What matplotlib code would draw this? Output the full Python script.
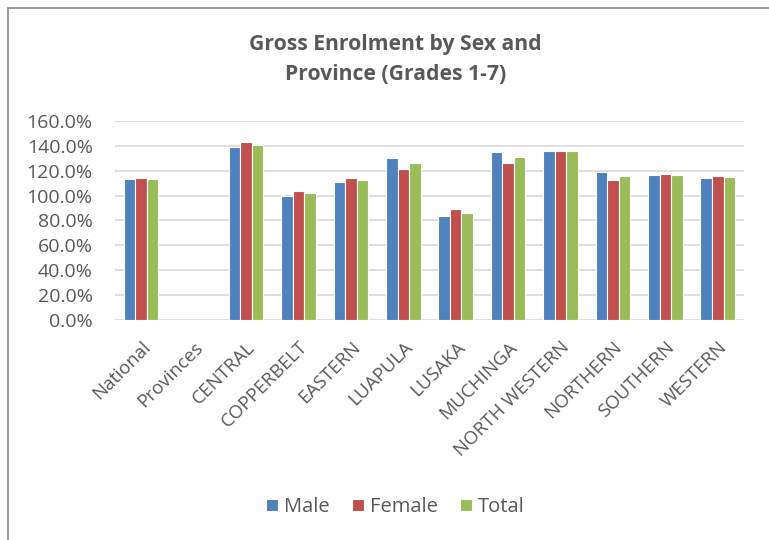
import matplotlib.pyplot as plt
import numpy as np
from matplotlib.patches import Rectangle

blue = '#4F81BD'
red = '#C0504D'
green = '#9BBB59'
grey_text = '#595959'
grid_grey = '#D9D9D9'

categories = ['National', 'Provinces', 'CENTRAL', 'COPPERBELT', 'EASTERN',
              'LUAPULA', 'LUSAKA', 'MUCHINGA', 'NORTH WESTERN', 'NORTHERN',
              'SOUTHERN', 'WESTERN']
# Provinces is an empty header row in the source table
male = [113.3, np.nan, 138.8, 99.9, 110.6, 130.5, 83.5, 135.0, 135.6, 119.2, 116.8, 114.4]
female = [113.8, np.nan, 142.8, 103.6, 114.1, 121.6, 89.1, 126.4, 135.8, 112.2, 117.3, 115.4]
total = [113.6, np.nan, 140.9, 101.7, 112.5, 126.2, 86.2, 130.7, 135.6, 115.7, 116.8, 114.9]
yticks = [0, 20, 40, 60, 80, 100, 120, 140, 160]

plt.rcParams['font.family'] = ['Open Sans', 'DejaVu Sans']

fig = plt.figure(figsize=(7.69, 5.40), dpi=100)
ax = fig.add_axes([0.1495, 0.4074, 0.818, 0.3686])

# chart area border (only top and left visible in the original)
fig.patches.append(Rectangle((8 / 769, -0.1), 1.2, 1 - 8 / 540 + 0.1,
                             transform=fig.transFigure, fill=False,
                             edgecolor='#888888', linewidth=1.2))

x = np.arange(len(categories))
w = 0.22
ax.bar(x - w, male, w, color=blue, edgecolor='white', linewidth=0.8, label='Male', zorder=3)
ax.bar(x, female, w, color=red, edgecolor='white', linewidth=0.8, label='Female', zorder=3)
ax.bar(x + w, total, w, color=green, edgecolor='white', linewidth=0.8, label='Total', zorder=3)

ax.set_xlim(-0.5, len(categories) - 0.5)
ax.set_ylim(0, 160)
ax.set_yticks(yticks)
ax.set_yticklabels(['%.1f%%' % v for v in yticks], fontsize=14, color=grey_text)
ax.set_xticks(x)
ax.set_xticklabels(categories, rotation=45, ha='right', rotation_mode='anchor',
                   fontsize=13.5, color=grey_text)
ax.tick_params(axis='y', length=0, pad=16)
ax.tick_params(axis='x', length=0, pad=13)
ax.yaxis.grid(True, color=grid_grey, linewidth=1.2, zorder=0)
for s in ax.spines.values():
    s.set_visible(False)

fig.text(0.514, 0.89, 'Gross Enrolment by Sex and\nProvince (Grades 1-7)',
         ha='center', va='center', fontsize=15.2, fontweight='bold',
         color=grey_text, linespacing=1.55)

fig.legend(loc='center', bbox_to_anchor=(0.514, 1 - 507 / 540), ncol=3,
           frameon=False, fontsize=14.5, handlelength=0.6, handleheight=0.6,
           handletextpad=0.3, columnspacing=1.1, labelcolor=grey_text)

fig.savefig('out.png', dpi=100)
